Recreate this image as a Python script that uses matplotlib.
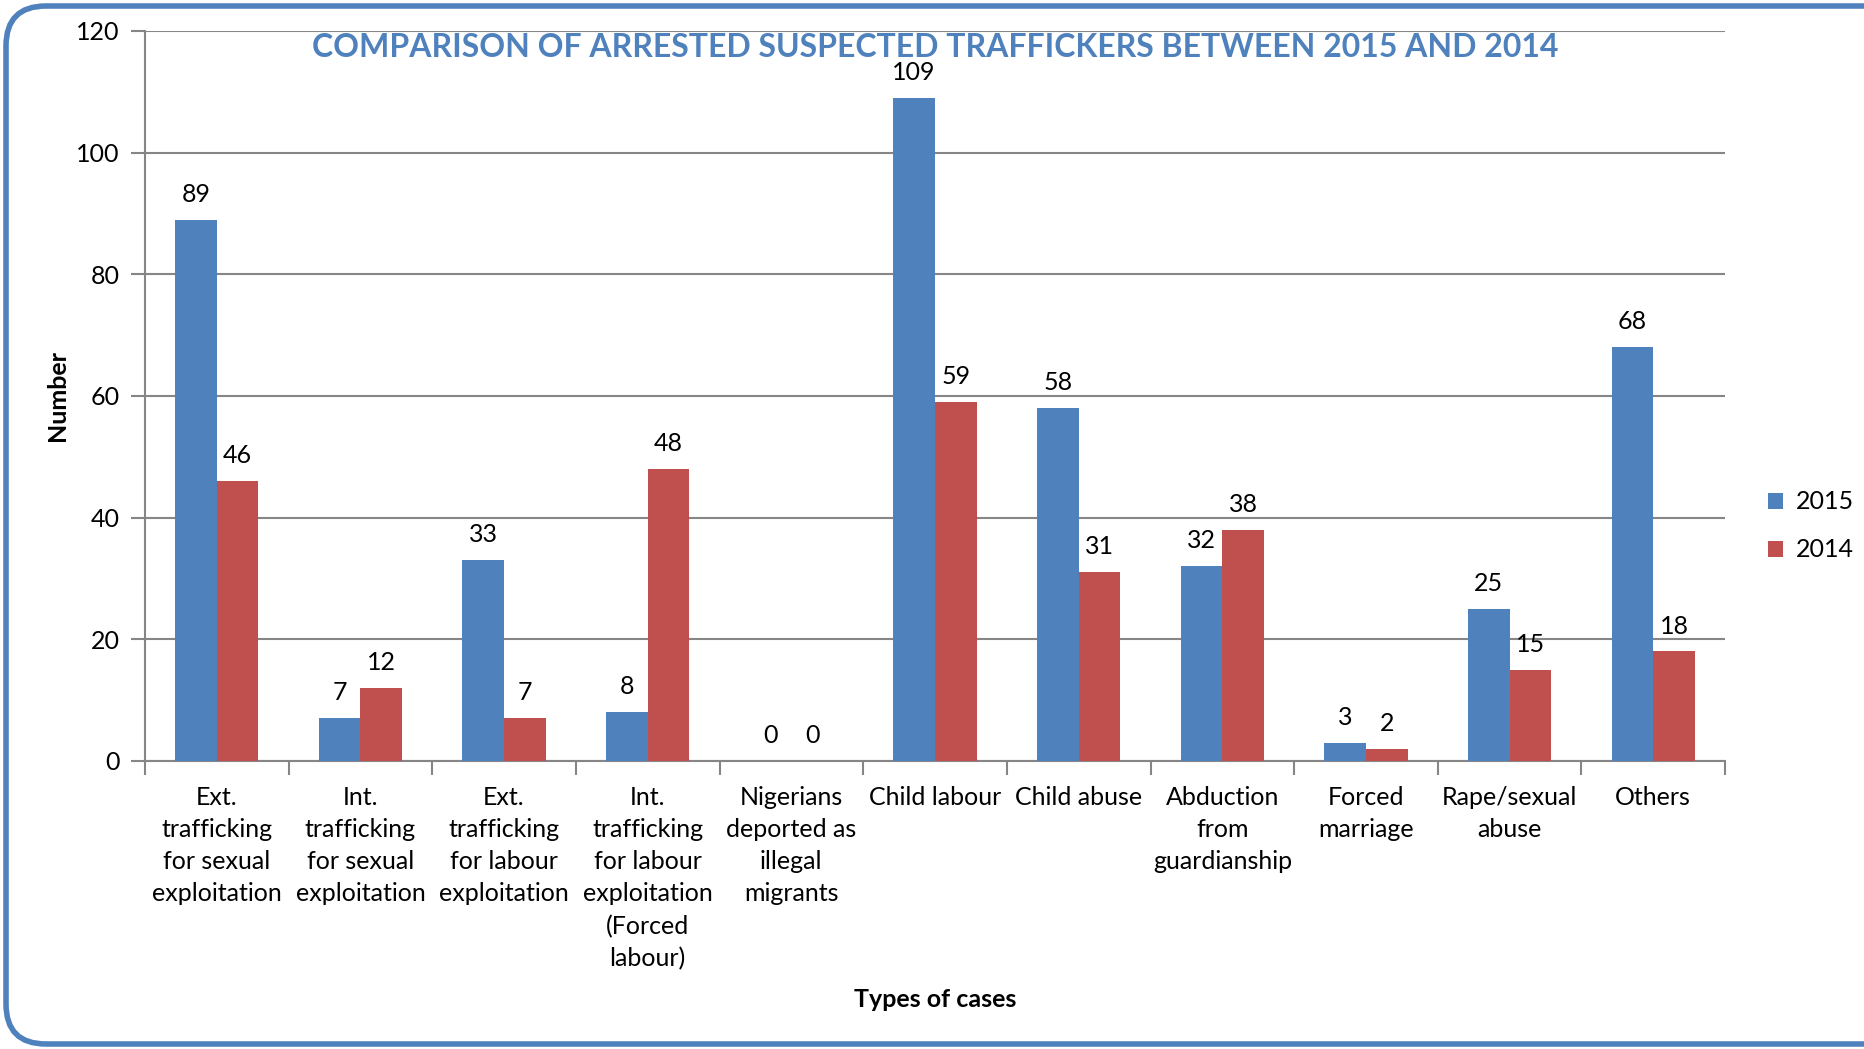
import matplotlib
matplotlib.use('Agg')
import matplotlib.pyplot as plt
import matplotlib.transforms as mtransforms
from matplotlib.patches import FancyBboxPatch
import numpy as np

plt.rcParams['font.family'] = ['Lato', 'DejaVu Sans']

categories = [
    'Ext.\ntrafficking\nfor sexual\nexploitation',
    'Int.\ntrafficking\nfor sexual\nexploitation',
    'Ext.\ntrafficking\nfor labour\nexploitation',
    'Int.\ntrafficking\nfor labour\nexploitation\n(Forced\nlabour)',
    'Nigerians\ndeported as\nillegal\nmigrants',
    'Child labour',
    'Child abuse',
    'Abduction\nfrom\nguardianship',
    'Forced\nmarriage',
    'Rape/sexual\nabuse',
    'Others',
]
values_2015 = [89, 7, 33, 8, 0, 109, 58, 32, 3, 25, 68]
values_2014 = [46, 12, 7, 48, 0, 59, 31, 38, 2, 15, 18]

blue = '#4F81BD'
red = '#C0504D'
grid = '#868686'

fig = plt.figure(figsize=(18.65, 10.49), dpi=100)
ax = fig.add_axes([0.0777, 0.2746, 0.8473, 0.6959])

x = np.arange(len(categories))
w = 0.29
b1 = ax.bar(x - w / 2, values_2015, w, color=blue, label='2015', zorder=3)
b2 = ax.bar(x + w / 2, values_2014, w, color=red, label='2014', zorder=3)
for bars in (b1, b2):
    ax.bar_label(bars, padding=10, fontsize=18)

ax.set_xlim(-0.5, len(categories) - 0.5)
ax.set_ylim(0, 120)
ax.set_yticks(range(0, 121, 20))
ax.yaxis.grid(True, color=grid, linewidth=1.5, zorder=0)
ax.set_axisbelow(True)

ax.set_xticks(x)
ax.set_xticklabels(categories, fontsize=18, linespacing=1.48)
ax.set_xticks(np.arange(-0.5, len(categories), 1), minor=True)
ax.tick_params(axis='x', which='major', length=0, pad=18)
ax.tick_params(axis='x', which='minor', length=10, width=1.5, color=grid)
ax.tick_params(axis='y', length=10, width=1.5, color=grid, labelsize=18, pad=8)

for s in ('top', 'right'):
    ax.spines[s].set_visible(False)
for s in ('left', 'bottom'):
    ax.spines[s].set_color(grid)
    ax.spines[s].set_linewidth(1.5)

ax.set_ylabel('Number', fontsize=18, fontweight='bold', labelpad=5)
ax.set_xlabel('Types of cases', fontsize=18, fontweight='bold', labelpad=13)
ax.text(0.5, 0.997, 'COMPARISON OF ARRESTED SUSPECTED TRAFFICKERS BETWEEN 2015 AND 2014',
        transform=ax.transAxes, ha='center', va='top', fontsize=23,
        fontweight='bold', color=blue)

ax.legend(loc='center left', bbox_to_anchor=(1.013, 0.322), frameon=False,
          fontsize=18, handlelength=0.6, handleheight=0.6, handletextpad=0.5,
          labelspacing=1.0)

frame = FancyBboxPatch((6, 5), 1900, 1038,
                       boxstyle='round,pad=0,rounding_size=40',
                       transform=mtransforms.IdentityTransform(),
                       facecolor='none', edgecolor=blue, linewidth=4)
fig.patches.append(frame)

fig.savefig('out.png', dpi=100)
